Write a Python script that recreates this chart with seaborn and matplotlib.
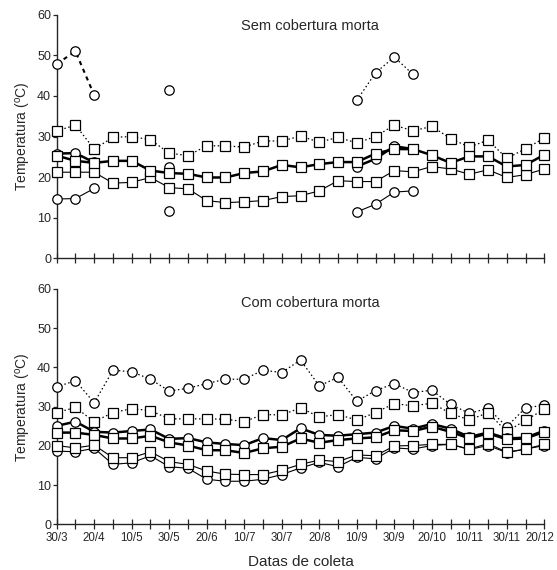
import numpy as np
import matplotlib
matplotlib.use("Agg")
import matplotlib.pyplot as plt
import matplotlib.transforms as mtransforms
import seaborn as sns

# collection dates (every 10 days), labels shown on every other tick
dates = ["30/3", "10/4", "20/4", "30/4", "10/5", "20/5", "30/5", "10/6", "20/6",
         "30/6", "10/7", "20/7", "30/7", "10/8", "20/8", "30/8", "10/9", "20/9",
         "30/9", "10/10", "20/10", "30/10", "10/11", "20/11", "30/11", "10/12", "20/12"]
n = np.nan

# Sem cobertura morta
sem_max_circ = [47.9, 51.0, 40.2, n, n, n, 41.4, n, n, n, n, n, n, n, n, n,
                38.9, 45.7, 49.6, 45.3, n, n, n, n, n, n, n]
sem_max_sq = [31.4, 32.8, 26.9, 29.8, 30.0, 29.2, 25.9, 25.3, 27.7, 27.7, 27.4, 28.9, 28.9,
              30.1, 28.6, 29.8, 28.4, 30.0, 32.8, 31.4, 32.5, 29.5, 27.4, 29.1, 24.6, 27.0, 29.6]
sem_med_circ = [25.8, 25.9, 23.6, n, n, n, 22.4, n, n, n, n, n, n, n, n, n,
                22.6, 24.5, 27.6, 26.9, n, n, n, n, n, n, n]
sem_med_sq = [25.3, 24.0, 23.5, 24.0, 24.0, 21.6, 21.0, 20.8, 19.9, 19.9, 21.0, 21.4, 23.0,
              22.4, 23.2, 23.7, 23.7, 25.8, 26.9, 26.9, 25.4, 23.5, 25.1, 25.1, 22.6, 23.0, 25.5]
sem_min_sq = [21.2, 21.2, 21.2, 18.5, 18.7, 19.9, 17.4, 17.1, 14.2, 13.7, 13.9, 14.2, 15.2,
              15.4, 16.6, 19.1, 18.9, 18.9, 21.6, 21.3, 22.6, 22.0, 20.7, 21.8, 19.9, 20.6, 22.0]
sem_min_circ = [14.6, 14.7, 17.2, n, n, n, 11.6, n, n, n, n, n, n, n, n, n,
                11.4, 13.3, 16.3, 16.6, n, n, n, n, n, n, n]

# Com cobertura morta
com_max_circ = [35.1, 36.6, 31.0, 39.3, 38.9, 37.0, 34.0, 34.7, 35.9, 37.0, 37.0, 39.3, 38.7,
                41.9, 35.3, 37.5, 31.4, 34.1, 35.9, 33.6, 34.2, 30.6, 28.3, 29.6, 24.9, 29.7, 30.4]
com_max_sq = [28.5, 29.8, 26.2, 28.5, 29.5, 29.0, 26.9, 26.9, 26.9, 26.8, 26.2, 28.0, 27.9,
              29.7, 27.4, 28.0, 26.6, 28.5, 30.8, 30.2, 30.9, 28.3, 26.6, 28.5, 23.6, 26.6, 29.3]
com_med_circ = [25.1, 26.2, 23.6, 23.4, 23.8, 24.2, 21.8, 22.0, 20.9, 20.5, 20.2, 22.0, 21.5,
                24.5, 22.8, 22.6, 23.0, 23.4, 25.1, 24.4, 25.6, 24.4, 22.3, 23.4, 21.9, 22.1, 23.9]
com_med_sq = [23.4, 23.4, 22.8, 21.9, 21.9, 22.6, 20.9, 20.1, 18.9, 18.9, 18.2, 19.4, 19.8,
              21.9, 20.8, 21.5, 21.9, 22.2, 24.0, 23.8, 24.9, 23.6, 21.9, 23.2, 21.7, 21.9, 23.6]
com_min_sq = [20.1, 19.5, 20.2, 17.0, 17.0, 18.5, 16.0, 15.3, 13.6, 12.8, 12.7, 12.7, 13.8,
              15.3, 16.4, 16.0, 17.7, 17.5, 20.0, 20.1, 20.4, 20.4, 19.2, 20.6, 18.4, 19.2, 20.4]
com_min_circ = [18.7, 18.5, 19.4, 15.3, 15.7, 17.5, 14.7, 14.3, 11.5, 11.0, 11.0, 11.5, 12.7,
                14.4, 15.8, 14.7, 17.1, 16.7, 19.5, 19.2, 20.1, 20.4, 19.1, 20.1, 18.3, 19.2, 20.1]

sns.set_style("ticks")
plt.rcParams["font.family"] = ["Liberation Sans", "DejaVu Sans"]
plt.rcParams["mathtext.fontset"] = "custom"
plt.rcParams["mathtext.rm"] = "Liberation Sans"

x = np.arange(len(dates))
dots = (0, (1.2, 2))


def draw(ax, vals, marker, ls, lw, ms=6.8, z=3):
    vals = np.array(vals, dtype=float)
    ok = ~np.isnan(vals)
    # split into contiguous runs so gaps are not bridged
    runs, cur = [], []
    for i in range(len(vals)):
        if ok[i]:
            cur.append(i)
        elif cur:
            runs.append(cur)
            cur = []
    if cur:
        runs.append(cur)
    styles = ls if isinstance(ls, list) else [(ls, lw)] * len(runs)
    for r, (s, w) in zip(runs, styles):
        sns.lineplot(x=x[r], y=vals[r], ax=ax, color="black", linestyle=s, linewidth=w,
                     marker=marker, markersize=ms, markerfacecolor="white",
                     markeredgecolor="black", markeredgewidth=0.9, zorder=z,
                     clip_on=False, errorbar=None)


fig = plt.figure(figsize=(5.57, 5.70), dpi=100)
ax1 = fig.add_axes([0.1018, 0.547, 0.8754, 0.427])
ax2 = fig.add_axes([0.1018, 0.080, 0.8754, 0.413])

draw(ax1, sem_max_circ, "o", [((0, (2, 2)), 1.5), (dots, 1), (dots, 0.9)], 1)
draw(ax1, sem_max_sq, "s", dots, 0.9)
draw(ax1, sem_med_circ, "o", "-", 1.8)
draw(ax1, sem_med_sq, "s", "-", 1.8, z=4)
draw(ax1, sem_min_sq, "s", "-", 0.8)
draw(ax1, sem_min_circ, "o", "-", 0.8)

draw(ax2, com_max_circ, "o", dots, 0.9)
draw(ax2, com_max_sq, "s", dots, 0.9)
draw(ax2, com_med_circ, "o", "-", 1.8)
draw(ax2, com_med_sq, "s", "-", 1.8, z=4)
draw(ax2, com_min_circ, "o", "-", 0.8)
draw(ax2, com_min_sq, "s", "-", 0.8, z=4)

for ax, title, ty in [(ax1, "Sem cobertura morta", 0.955), (ax2, "Com cobertura morta", 0.94)]:
    ax.set_xlim(0, len(dates) - 1)
    ax.set_ylim(0, 60)
    ax.set_yticks(range(0, 61, 10))
    ax.set_xticks(x)
    ax.spines["top"].set_visible(False)
    ax.spines["right"].set_visible(False)
    ax.spines["left"].set_linewidth(1.0)
    ax.spines["bottom"].set_linewidth(1.0)
    ax.tick_params(axis="x", direction="inout", length=7, width=0.9, labelsize=8.3, pad=2)
    ax.tick_params(axis="y", direction="out", length=3, width=0.9, labelsize=9, pad=1)
    ax.set_ylabel(r"Temperatura ($^{\mathrm{o}}$C)", fontsize=10, labelpad=3)
    ax.set_xlabel("")
    ax.text(0.52, ty, title, transform=ax.transAxes, ha="center", va="center", fontsize=10.5)
    ax.set_facecolor("white")

ax1.set_xticklabels([])
ax2.set_xticklabels([d if i % 2 == 0 else "" for i, d in enumerate(dates)])
ax2.set_xlabel("Datas de coleta", fontsize=11, labelpad=8)

# nudge the last date label so it stays inside the figure
last = ax2.get_xticklabels()[-1]
last.set_transform(last.get_transform() +
                   mtransforms.ScaledTranslation(-3 / 72, 0, fig.dpi_scale_trans))

fig.savefig("out.png", dpi=100, facecolor="white")
